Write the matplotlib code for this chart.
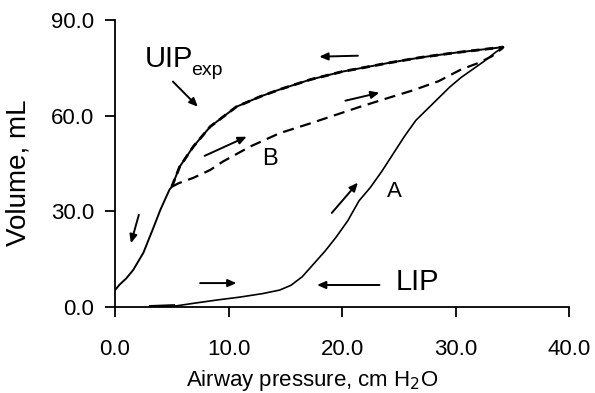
import matplotlib
matplotlib.use("Agg")
import matplotlib.pyplot as plt
import numpy as np

plt.rcParams['font.family'] = ['Liberation Sans', 'DejaVu Sans']

# Inflation limb A (solid)
a_x = [3.0, 5.3, 7.0, 9.0, 11.0, 13.0, 14.5, 15.5, 16.5, 17.5, 18.5, 19.5, 20.5, 21.5,
       22.5, 23.5, 24.5, 25.5, 26.5, 27.5, 28.5, 29.5, 30.5, 31.5, 32.5, 33.5, 34.2]
a_y = [0.0, 0.3, 1.2, 2.2, 3.1, 4.2, 5.3, 6.8, 9.5, 13.5, 17.5, 22.0, 27.0, 33.3,
       37.5, 42.5, 48.0, 53.5, 58.5, 62.0, 65.5, 69.0, 72.0, 74.5, 77.0, 79.8, 81.5]

# Deflation limb (solid, upper)
d_x = [0.0, 0.4, 1.0, 1.6, 2.5, 3.4, 4.0, 4.8, 5.0, 5.7, 6.9, 8.4, 10.7, 12.8, 14.5,
       17.2, 20.0, 24.2, 27.0, 30.1, 32.5, 34.2]
d_y = [5.3, 7.0, 9.0, 11.6, 17.0, 25.0, 30.5, 36.8, 37.7, 44.0, 50.3, 56.6, 62.8, 66.0, 68.2,
       71.3, 73.8, 76.6, 78.3, 79.8, 80.8, 81.5]

# Inflation limb B (dashed)
b_x = [5.0, 5.6, 6.9, 8.4, 9.5, 11.9, 14.5, 17.4, 21.6, 24.2, 26.3, 28.5, 30.5, 32.0, 33.2, 34.2]
b_y = [37.7, 38.8, 40.5, 43.0, 45.6, 50.3, 54.5, 57.8, 62.8, 65.7, 68.0, 70.8, 74.5, 76.5, 78.6, 81.3]

x_ticks = [0, 10, 20, 30, 40]
y_ticks = [0, 30, 60, 90]

fig = plt.figure(figsize=(5.95, 3.93), dpi=100)
ax = fig.add_axes([115/595, 1-307/393, (569-115)/595, (307-20)/393])

ax.plot(a_x, a_y, color='black', lw=1.2)
ax.plot(a_x[:2], a_y[:2], color='black', lw=2.8, solid_capstyle='butt')
ax.plot(d_x, d_y, color='black', lw=1.4)
dx = np.array(d_x); dy = np.array(d_y)
m = dx >= 5.0
ax.plot(dx[m], dy[m], color='black', lw=2.0, linestyle=(0, (3, 2)))
ax.plot(b_x, b_y, color='black', lw=1.6, linestyle=(0, (5, 3)))

ax.set_xlim(0, 40)
ax.set_ylim(0, 90)
ax.set_xticks(x_ticks)
ax.set_yticks(y_ticks)
ax.set_xticklabels([f"{v:.1f}" for v in x_ticks], fontsize=16)
ax.set_yticklabels([f"{v:.1f}" for v in y_ticks], fontsize=16)
ax.tick_params(axis='x', direction='out', length=7, width=1.3, pad=16)
ax.tick_params(axis='y', direction='out', length=7, width=1.3, pad=8)
for s in ['top', 'right']:
    ax.spines[s].set_visible(False)
for s in ['left', 'bottom']:
    ax.spines[s].set_linewidth(1.3)

ap = dict(arrowstyle='-|>,head_length=0.5,head_width=0.22', color='black', lw=1.4,
          shrinkA=0, shrinkB=0)
arrows = [((5.1, 70.7), (7.3, 62.8)),
          ((7.9, 47.4), (11.6, 53.4)),
          ((21.4, 78.8), (18.0, 78.5)),
          ((20.3, 64.7), (23.3, 67.2)),
          ((19.1, 29.5), (21.4, 39.0)),
          ((2.1, 28.9), (1.4, 20.0)),
          ((7.5, 7.5), (10.7, 7.5)),
          ((23.3, 6.9), (17.8, 6.9))]
for (s, e) in arrows:
    ax.annotate('', xy=e, xytext=s, arrowprops=ap, annotation_clip=False)

ax.text(2.6, 75.4, 'UIP', fontsize=21, va='baseline', ha='left')
ax.text(6.75, 72.6, 'exp', fontsize=14, va='baseline', ha='left')
ax.text(12.95, 44.6, 'B', fontsize=17, va='baseline', ha='left')
ax.text(24.0, 34.6, 'A', fontsize=16, va='baseline', ha='left')
ax.text(24.7, 5.3, 'LIP', fontsize=21, va='baseline', ha='left')

fig.text(312/595, 1-386/393, 'Airway pressure, cm H$_2$O', fontsize=16,
         ha='center', va='baseline')
fig.text(32/595, 1-173/393, 'Volume, mL', fontsize=20, rotation=90,
         ha='right', va='center')

fig.savefig('out.png', dpi=100)
